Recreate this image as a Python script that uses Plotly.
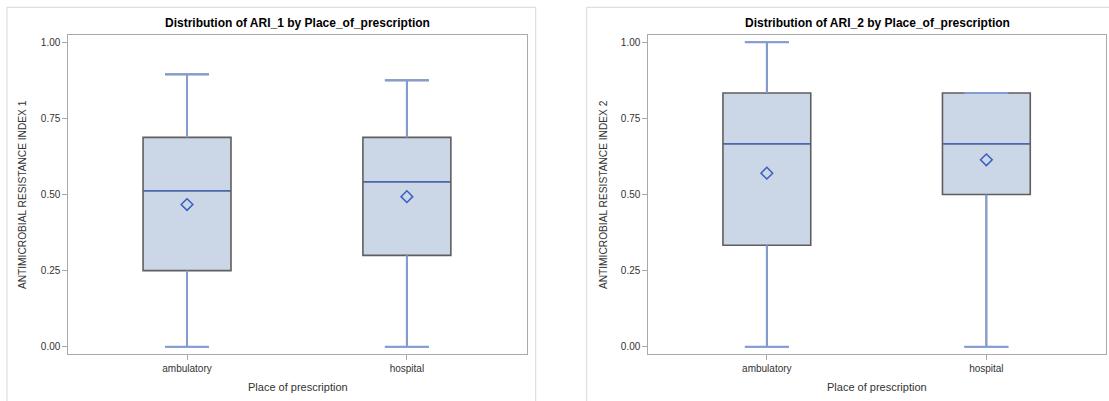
import plotly.graph_objects as go

# ---- data ----
categories = ["ambulatory", "hospital"]
positions = [0, 1]

ari1_min = [0.0, 0.0]
ari1_q1 = [0.25, 0.30]
ari1_median = [0.5125, 0.5417]
ari1_q3 = [0.6875, 0.6875]
ari1_max = [0.8947, 0.875]
ari1_mean = [0.467, 0.493]

ari2_min = [0.0, 0.0]
ari2_q1 = [0.3333, 0.5]
ari2_median = [0.6667, 0.6667]
ari2_q3 = [0.8333, 0.8333]
ari2_max = [1.0, 0.8333]
ari2_mean = [0.570, 0.614]

y_ticks = [0.0, 0.25, 0.5, 0.75, 1.0]

panel_titles = ["Distribution of ARI_1 by Place_of_prescription",
                "Distribution of ARI_2 by Place_of_prescription"]
y_titles = ["ANTIMICROBIAL RESISTANCE INDEX 1", "ANTIMICROBIAL RESISTANCE INDEX 2"]
x_title = "Place of prescription"

# ---- style ----
W, H = 1109, 401
FONT = "Liberation Sans, Arial, sans-serif"
BOX_W = 0.4
CAP_HALF = BOX_W / 4
FILL = "#CBD6E6"
OUTLINE = "#5E5E5E"
WHISK = "#839DD3"
MEDIAN_C = "#4868B6"
MEAN_C = "#3A5FC0"
AXIS_C = "#A9A9A9"
FRAME_C = "#D8D8D8"

def px_x(v):
    return v / W

def px_y(v):
    return 1 - v / H

fig = go.Figure()

panels = [
    dict(xa="x", ya="y", mn=ari1_min, q1=ari1_q1, md=ari1_median, q3=ari1_q3, mx=ari1_max, mean=ari1_mean),
    dict(xa="x2", ya="y2", mn=ari2_min, q1=ari2_q1, md=ari2_median, q3=ari2_q3, mx=ari2_max, mean=ari2_mean),
]

for p in panels:
    # boxes (outline gray)
    fig.add_trace(go.Box(
        x=positions, q1=p["q1"], median=p["md"], q3=p["q3"],
        lowerfence=p["mn"], upperfence=p["mx"],
        width=BOX_W, whiskerwidth=0.5,
        fillcolor=FILL, line=dict(color=OUTLINE, width=1.6),
        boxpoints=False, showlegend=False, hoverinfo="skip",
        xaxis=p["xa"], yaxis=p["ya"],
    ))
    # whiskers and caps in blue
    wx, wy = [], []
    for i, pos in enumerate(positions):
        wx += [pos, pos, None, pos, pos, None,
               pos - CAP_HALF, pos + CAP_HALF, None, pos - CAP_HALF, pos + CAP_HALF, None]
        wy += [p["q3"][i], p["mx"][i], None, p["q1"][i], p["mn"][i], None,
               p["mx"][i], p["mx"][i], None, p["mn"][i], p["mn"][i], None]
    fig.add_trace(go.Scatter(x=wx, y=wy, mode="lines", line=dict(color=WHISK, width=2),
                             showlegend=False, hoverinfo="skip", xaxis=p["xa"], yaxis=p["ya"]))
    # medians
    mx_, my_ = [], []
    for i, pos in enumerate(positions):
        mx_ += [pos - BOX_W / 2 + 0.004, pos + BOX_W / 2 - 0.004, None]
        my_ += [p["md"][i], p["md"][i], None]
    fig.add_trace(go.Scatter(x=mx_, y=my_, mode="lines", line=dict(color=MEDIAN_C, width=1.5),
                             showlegend=False, hoverinfo="skip", xaxis=p["xa"], yaxis=p["ya"]))
    # means
    fig.add_trace(go.Scatter(x=positions, y=p["mean"], mode="markers",
                             marker=dict(symbol="diamond-open", size=9, color=MEAN_C, line=dict(width=1.5)),
                             showlegend=False, hoverinfo="skip", xaxis=p["xa"], yaxis=p["ya"]))

y_dom = [px_y(354.3), px_y(35.3)]
x_doms = [[px_x(68.3), px_x(526.7)], [px_x(648.3), px_x(1106)]]

axis_common = dict(showline=True, mirror=True, linecolor=AXIS_C, linewidth=1,
                   ticks="outside", ticklen=5, tickcolor=AXIS_C, showgrid=False, zeroline=False,
                   tickfont=dict(family=FONT, size=10, color="#333333"))

layout = dict(
    width=W, height=H, autosize=False,
    margin=dict(l=0, r=0, t=0, b=0),
    paper_bgcolor="white", plot_bgcolor="white",
    showlegend=False,
    font=dict(family=FONT, color="#333333"),
)
for k, dom in enumerate(x_doms):
    sfx = "" if k == 0 else "2"
    layout["xaxis" + sfx] = dict(domain=dom, range=[-0.54, 1.545], tickvals=positions,
                                 ticktext=categories, anchor="y" + sfx, **axis_common)
    layout["yaxis" + sfx] = dict(domain=y_dom, range=[-0.025, 1.023], tickvals=y_ticks,
                                 tickformat=".2f", anchor="x" + sfx, **axis_common)
fig.update_layout(**layout)

annotations = []
shapes = []
frames = [(7, 535.7), (586.7, 1120)]
for k, dom in enumerate(x_doms):
    cx = (dom[0] + dom[1]) / 2
    annotations.append(dict(text="<b>" + panel_titles[k] + "</b>", x=cx, y=px_y(23), xref="paper", yref="paper",
                            showarrow=False, xanchor="center", yanchor="middle",
                            font=dict(family=FONT, size=12, color="#000000")))
    annotations.append(dict(text=x_title, x=cx, y=px_y(387), xref="paper", yref="paper",
                            showarrow=False, xanchor="center", yanchor="middle",
                            font=dict(family=FONT, size=11, color="#333333")))
    annotations.append(dict(text=y_titles[k], x=dom[0] - px_x(45), y=(y_dom[0] + y_dom[1]) / 2,
                            xref="paper", yref="paper", textangle=-90,
                            showarrow=False, xanchor="center", yanchor="middle",
                            font=dict(family=FONT, size=10.2, color="#333333")))
    shapes.append(dict(type="rect", xref="paper", yref="paper",
                       x0=px_x(frames[k][0]), x1=px_x(frames[k][1]), y0=-0.1, y1=px_y(7.3),
                       line=dict(color=FRAME_C, width=1), fillcolor="rgba(0,0,0,0)", layer="below"))
fig.update_layout(annotations=annotations, shapes=shapes)

fig.write_html("out.html",
               config={"displayModeBar": False},
               post_script="document.body.style.margin='0';document.body.style.padding='0';"
                           "document.body.style.overflow='hidden';")
